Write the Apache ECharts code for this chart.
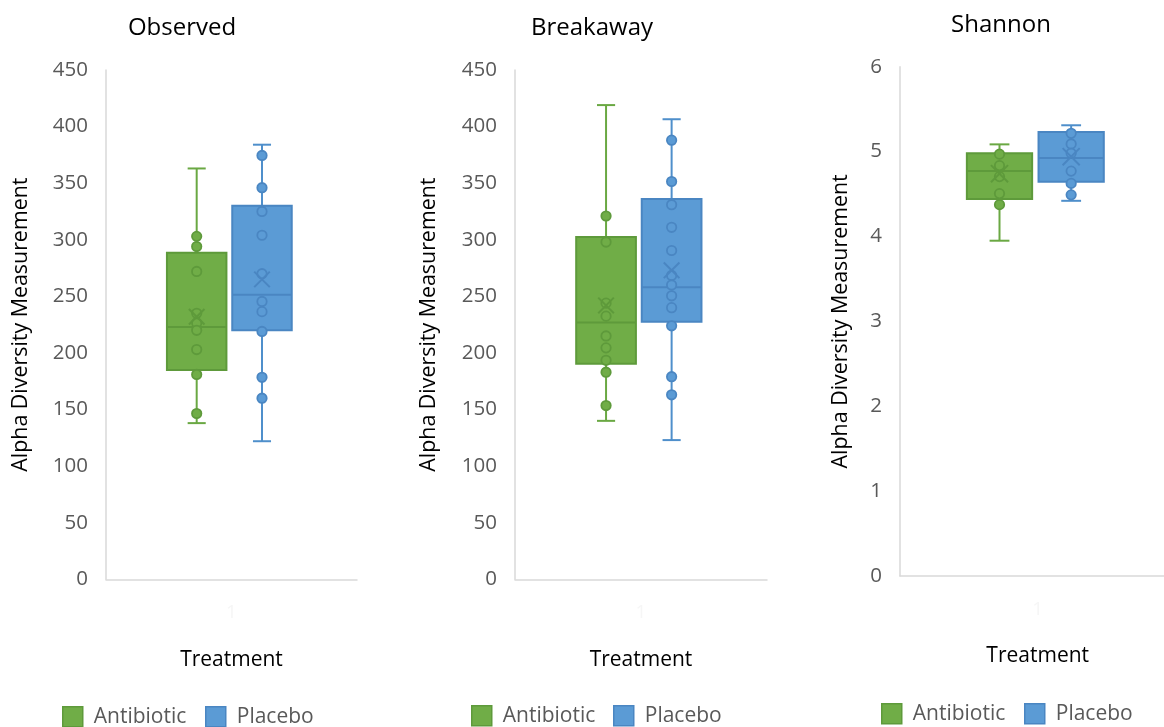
<!DOCTYPE html>
<html>
<head>
<meta charset="utf-8">
<script src="https://cdn.jsdelivr.net/npm/echarts@6/dist/echarts.min.js"></script>
<style>
html,body{margin:0;padding:0;background:#fff;}
#c{width:1164px;height:727px;}
</style>
</head>
<body>
<div id="c"></div>
<script>
// ---------- data ----------
const panelTitles = ['Observed', 'Breakaway', 'Shannon'];
const groupNames = ['Antibiotic', 'Placebo'];
const categories = ['1'];
const yAxisName = 'Alpha Diversity Measurement';
const xAxisName = 'Treatment';

// box stats: [min whisker, Q1, median, Q3, max whisker]
const obsAntibioticBox = [138, 185, 223, 288.5, 363];
const obsAntibioticMean = 232;
const obsAntibioticPoints = [303, 294, 272, 235, 226.5, 220, 203, 181, 146.5];
const obsPlaceboBox = [122, 220, 251.5, 330, 384];
const obsPlaceboMean = 265;
const obsPlaceboPoints = [374.5, 346, 325, 304, 270, 245.5, 236.5, 219, 178.5, 160];

const brkAntibioticBox = [140, 190.5, 227, 302.5, 419];
const brkAntibioticMean = 242;
const brkAntibioticPoints = [321, 298, 244, 232.5, 215, 204.5, 193.5, 183, 153.5];
const brkPlaceboBox = [123, 227.5, 258, 336, 406.5];
const brkPlaceboMean = 273;
const brkPlaceboPoints = [388, 351.5, 331, 311, 290.5, 268.5, 260, 250.5, 240, 224, 179, 163];

const shaAntibioticBox = [3.95, 4.44, 4.77, 4.98, 5.085];
const shaAntibioticMean = 4.74;
const shaAntibioticPoints = [4.97, 4.835, 4.705, 4.505, 4.375];
const shaPlaceboBox = [4.42, 4.645, 4.925, 5.23, 5.31];
const shaPlaceboMean = 4.94;
const shaPlaceboPoints = [5.215, 5.09, 4.98, 4.77, 4.625, 4.49];

const yMax = [450, 450, 6];
const yInterval = [50, 50, 1];

// ---------- styles ----------
const FONT = '"Open Sans", sans-serif';
const fills = ['#70AD47', '#5B9BD5'];
const strokes = ['#5E9A3B', '#4A86C2'];
const whiskerCols = ['#6AA843', '#4F8FCB'];
const offRatio = [-0.1387, 0.1215];
const BOX_W = 0.237;
const CAP_W = 0.072;

const grids = [
  {left: 106, top: 70, width: 251, height: 509.3},
  {left: 515, top: 70, width: 252, height: 509.3},
  {left: 900, top: 66.7, width: 275.4, height: 509.3}
];
const yNameGap = [75, 76, 49];
const titlePos = [182, 592, 1001];
const titleTop = [16, 16, 13];
const legendLeft = [[62, 205], [471, 613], [881, 1024]];
const legendTop = [706, 705, 703];

const panelData = [
  [[obsAntibioticBox, obsAntibioticMean, obsAntibioticPoints], [obsPlaceboBox, obsPlaceboMean, obsPlaceboPoints]],
  [[brkAntibioticBox, brkAntibioticMean, brkAntibioticPoints], [brkPlaceboBox, brkPlaceboMean, brkPlaceboPoints]],
  [[shaAntibioticBox, shaAntibioticMean, shaAntibioticPoints], [shaPlaceboBox, shaPlaceboMean, shaPlaceboPoints]]
];

function centerX(api, g) {
  const band = api.size([1, 0])[0];
  return {cx: api.coord([api.value(0), api.value(1)])[0] + offRatio[g] * band, band: band};
}

function boxRender(g) {
  return function (params, api) {
    const c = centerX(api, g);
    const cx = c.cx, bw = BOX_W * c.band, cw = CAP_W * c.band;
    const y = i => api.coord([api.value(0), api.value(i)])[1];
    const yMin = y(1), yQ1 = y(2), yMed = y(3), yQ3 = y(4), yMx = y(5);
    const ls = {stroke: whiskerCols[g], lineWidth: 2};
    return {
      type: 'group',
      children: [
        {type: 'line', shape: {x1: cx, y1: yMx, x2: cx, y2: yQ3}, style: ls},
        {type: 'line', shape: {x1: cx, y1: yQ1, x2: cx, y2: yMin}, style: ls},
        {type: 'line', shape: {x1: cx - cw / 2, y1: yMx, x2: cx + cw / 2, y2: yMx}, style: ls},
        {type: 'line', shape: {x1: cx - cw / 2, y1: yMin, x2: cx + cw / 2, y2: yMin}, style: ls},
        {type: 'rect', shape: {x: cx - bw / 2, y: yQ3, width: bw, height: yQ1 - yQ3},
          style: {fill: fills[g], stroke: strokes[g], lineWidth: 2}},
        {type: 'line', shape: {x1: cx - bw / 2, y1: yMed, x2: cx + bw / 2, y2: yMed},
          style: {stroke: strokes[g], lineWidth: 2}}
      ]
    };
  };
}

function pointRender(g) {
  return function (params, api) {
    const c = centerX(api, g);
    const yy = api.coord([api.value(0), api.value(1)])[1];
    return {type: 'circle', shape: {cx: c.cx, cy: yy, r: 4.7},
      style: {fill: fills[g], stroke: strokes[g], lineWidth: 1.8}};
  };
}

function meanRender(g) {
  return function (params, api) {
    const c = centerX(api, g);
    const yy = api.coord([api.value(0), api.value(1)])[1];
    const h = 0.031 * c.band;
    const st = {stroke: strokes[g], lineWidth: 2};
    return {type: 'group', children: [
      {type: 'line', shape: {x1: c.cx - h, y1: yy - h, x2: c.cx + h, y2: yy + h}, style: st},
      {type: 'line', shape: {x1: c.cx - h, y1: yy + h, x2: c.cx + h, y2: yy - h}, style: st}
    ]};
  };
}

const option = {
  animation: false,
  backgroundColor: '#ffffff',
  title: [], grid: [], xAxis: [], yAxis: [], legend: [], series: []
};

panelTitles.forEach((t, p) => {
  option.title.push({text: t, left: titlePos[p], top: titleTop[p], textAlign: 'center', padding: 0,
    textStyle: {fontFamily: FONT, fontSize: 24, fontWeight: 'normal', color: '#000000'}});
  option.grid.push(Object.assign({containLabel: false, outerBoundsMode: 'none'}, grids[p]));
  option.xAxis.push({
    type: 'category', gridIndex: p, data: categories,
    name: xAxisName, nameLocation: 'middle', nameGap: 70,
    nameTextStyle: {fontFamily: FONT, fontSize: 21, color: '#000000'},
    axisLine: {lineStyle: {color: '#D9D9D9', width: 1.5}},
    axisTick: {show: false},
    axisLabel: {margin: 24, fontFamily: FONT, fontSize: 19, color: '#F6F6F6'},
    splitLine: {show: false}
  });
  option.yAxis.push({
    type: 'value', gridIndex: p, min: 0, max: yMax[p], interval: yInterval[p],
    name: yAxisName, nameLocation: 'middle', nameGap: yNameGap[p], nameRotate: 90,
    nameTextStyle: {fontFamily: FONT, fontSize: 21.4, color: '#000000'},
    axisLine: {show: true, lineStyle: {color: '#D9D9D9', width: 1.5}},
    axisTick: {show: false},
    axisLabel: {margin: 18, fontFamily: FONT, fontSize: 20.5, color: '#595959'},
    splitLine: {show: false}
  });
  groupNames.forEach((gName, g) => {
    const d = panelData[p][g];
    const box = d[0];
    option.legend.push({
      data: [{name: gName, itemStyle: {color: fills[g], borderColor: strokes[g], borderWidth: 1.5}}],
      left: legendLeft[p][g], top: legendTop[p], padding: 0, icon: 'rect',
      itemWidth: 20, itemHeight: 20, selectedMode: false,
      textStyle: {fontFamily: FONT, fontSize: 21, color: '#595959', padding: [0, 0, 0, 6]}
    });
    option.series.push({
      type: 'custom', name: gName, xAxisIndex: p, yAxisIndex: p, z: 2,
      renderItem: boxRender(g),
      itemStyle: {color: fills[g]},
      encode: {x: 0, y: [1, 2, 3, 4, 5]},
      data: [[0].concat(box)]
    });
    option.series.push({
      type: 'custom', name: gName, xAxisIndex: p, yAxisIndex: p, z: 3,
      renderItem: pointRender(g),
      itemStyle: {color: fills[g]},
      encode: {x: 0, y: 1},
      data: d[2].map(v => [0, v])
    });
    option.series.push({
      type: 'custom', name: gName, xAxisIndex: p, yAxisIndex: p, z: 4,
      renderItem: meanRender(g),
      itemStyle: {color: fills[g]},
      encode: {x: 0, y: 1},
      data: [[0, d[1]]]
    });
  });
});

const chart = echarts.init(document.getElementById('c'), null, {renderer: 'canvas'});
chart.setOption(option);
</script>
</body>
</html>
